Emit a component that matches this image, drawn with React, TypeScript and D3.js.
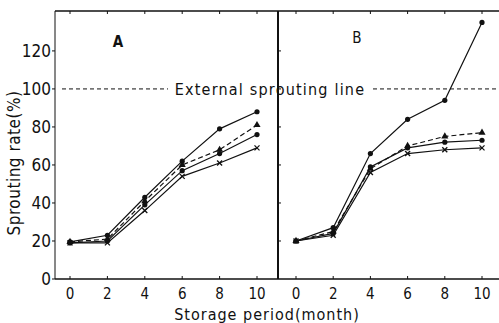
import * as d3 from "d3";

const months = [0, 2, 4, 6, 8, 10];
const yTicks = [0, 20, 40, 60, 80, 100, 120];

// panel A
const a1 = [19.5, 23, 43, 62, 79, 88];
const a2 = [19.5, 21, 41, 60, 68, 81];
const a3 = [19, 20, 39, 57, 66, 76];
const a4 = [19, 19, 36, 54, 61, 69];

// panel B
const b1 = [20, 27, 66, 84, 94, 135];
const b2 = [20, 25, 58, 70, 75, 77];
const b3 = [20, 24, 59, 69, 72, 73];
const b4 = [20, 23, 56, 66, 68, 69];

const refLine = 100;

type Marker = "circle" | "triangle" | "cross";
type Series = { values: number[]; dashed: boolean; marker: Marker };

const styleOf: { dashed: boolean; marker: Marker }[] = [
  { dashed: false, marker: "circle" },
  { dashed: true, marker: "triangle" },
  { dashed: false, marker: "circle" },
  { dashed: false, marker: "cross" },
];

const panelA: Series[] = [a1, a2, a3, a4].map((v, i) => ({ values: v, ...styleOf[i] }));
const panelB: Series[] = [b1, b2, b3, b4].map((v, i) => ({ values: v, ...styleOf[i] }));

const W = 499;
const H = 323;
const top = 11;
const bottom = 279;
const left = 55;
const divider = 278;
const right = 499;
const font = "'DejaVu Sans Condensed', 'Liberation Sans Narrow', 'DejaVu Sans', sans-serif";

const y = d3.scaleLinear().domain([0, 141]).range([bottom, top]);
const xA = d3.scaleLinear().domain([0, 10]).range([70, 257]);
const xB = d3.scaleLinear().domain([0, 10]).range([296, 482]);

function MarkerShape({ cx, cy, kind }: { cx: number; cy: number; kind: Marker }) {
  if (kind === "circle") return <circle cx={cx} cy={cy} r={2.6} fill="#111" />;
  if (kind === "triangle") {
    const p = d3.symbol(d3.symbolTriangle, 22)();
    return <path d={p ?? ""} transform={`translate(${cx},${cy})`} fill="#111" />;
  }
  return (
    <g stroke="#111" strokeWidth={1.3}>
      <line x1={cx - 2.5} y1={cy - 2.5} x2={cx + 2.5} y2={cy + 2.5} />
      <line x1={cx - 2.5} y1={cy + 2.5} x2={cx + 2.5} y2={cy - 2.5} />
    </g>
  );
}

function Panel({ series, x }: { series: Series[]; x: d3.ScaleLinear<number, number> }) {
  const line = d3
    .line<number>()
    .x((_, i) => x(months[i]))
    .y((d) => y(d));
  return (
    <g>
      {months.map((m) => (
        <g key={m} stroke="#111" strokeWidth={1}>
          <line x1={x(m)} x2={x(m)} y1={bottom} y2={bottom - 3} />
          <line x1={x(m)} x2={x(m)} y1={top} y2={top + 3} />
        </g>
      ))}
      {months.map((m) => (
        <text key={m} x={x(m)} y={299} textAnchor="middle" fontSize={15} fontFamily={font} fill="#111">
          {m}
        </text>
      ))}
      {series.map((s, k) => (
        <g key={k}>
          <path
            d={line(s.values) ?? ""}
            fill="none"
            stroke="#111"
            strokeWidth={1.2}
            strokeDasharray={s.dashed ? "5,3" : undefined}
          />
          {s.values.map((v, i) => (
            <MarkerShape key={i} cx={x(months[i])} cy={y(v)} kind={s.marker} />
          ))}
        </g>
      ))}
    </g>
  );
}

export default function App() {
  const yRef = y(refLine);
  return (
    <svg width={W} height={H} style={{ position: "absolute", left: 0, top: 0, background: "#fff" }}>
      <rect width={W} height={H} fill="#fff" />
      {/* frame */}
      <line x1={left} x2={right} y1={top} y2={top} stroke="#111" strokeWidth={1.5} />
      <line x1={left} x2={right} y1={bottom} y2={bottom} stroke="#111" strokeWidth={1.3} />
      <line x1={left} x2={left} y1={top} y2={bottom} stroke="#111" strokeWidth={1} />
      <line x1={divider} x2={divider} y1={top} y2={bottom} stroke="#111" strokeWidth={2} />

      {/* y axis */}
      {yTicks.map((t) => (
        <g key={t}>
          <line x1={left - 3} x2={left} y1={y(t)} y2={y(t)} stroke="#111" />
          {t > 0 && <line x1={divider} x2={divider + 3} y1={y(t)} y2={y(t)} stroke="#111" />}
          <text x={left - 4} y={y(t) + 6} textAnchor="end" fontSize={17} fontFamily={font} fill="#111">
            {t}
          </text>
        </g>
      ))}

      <Panel series={panelA} x={xA} />
      <Panel series={panelB} x={xB} />

      {/* external sprouting line */}
      <line x1={62} x2={168} y1={yRef} y2={yRef} stroke="#111" strokeWidth={1} strokeDasharray="4,3" />
      <line x1={373} x2={right} y1={yRef} y2={yRef} stroke="#111" strokeWidth={1} strokeDasharray="4,3" />
      <text x={270} y={yRef + 6} textAnchor="middle" fontSize={16} letterSpacing={1.2} fontFamily={font} fill="#111">
        External sprouting line
      </text>

      <text x={118} y={47} textAnchor="middle" fontSize={15} fontWeight="bold" fontFamily={font} fill="#111">
        A
      </text>
      <text x={357} y={43} textAnchor="middle" fontSize={15} fontFamily={font} fill="#111">
        B
      </text>

      <text x={267} y={320} textAnchor="middle" fontSize={16} letterSpacing={1} fontFamily={font} fill="#111">
        Storage period(month)
      </text>
      <text
        transform={`translate(20,163) rotate(-90)`}
        textAnchor="middle"
        fontSize={17}
        letterSpacing={0.5}
        fontFamily={font}
        fill="#111"
      >
        Sprouting rate(%)
      </text>
    </svg>
  );
}
